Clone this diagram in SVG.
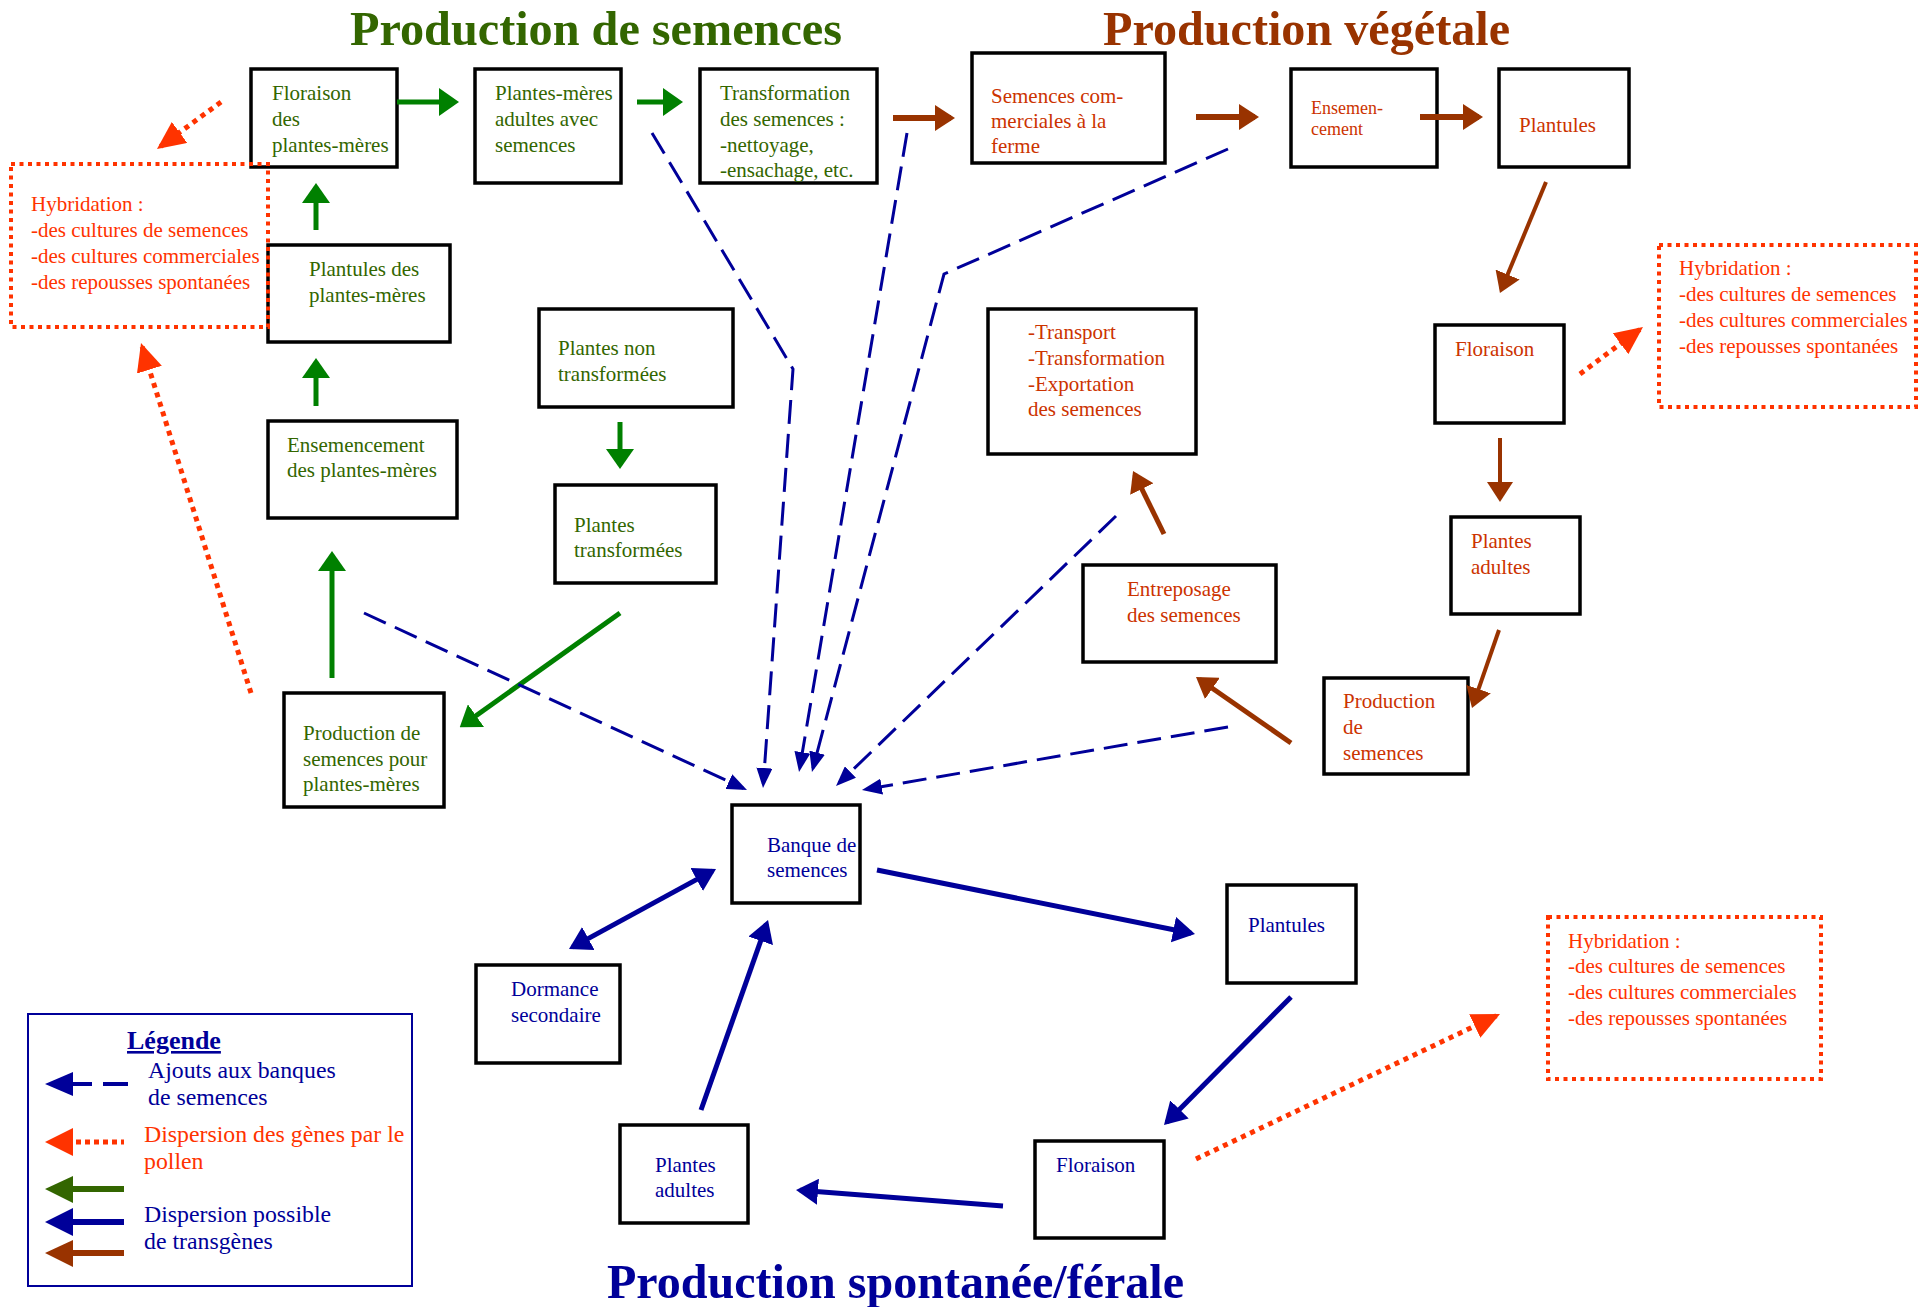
<svg xmlns="http://www.w3.org/2000/svg" width="1928" height="1307" viewBox="0 0 1928 1307">
<style>
.box{fill:none;stroke:#000;stroke-width:3.5}
.t{font-family:"Liberation Serif","Times New Roman",serif;font-size:21px}
.sm{font-size:18px}
.lg{font-size:23.8px}
.lt{font-size:26px;font-weight:bold;text-decoration:underline}
.title{font-family:"Liberation Serif","Times New Roman",serif;font-size:48px;font-weight:bold}
.g{fill:#336600}.r{fill:#CC3300}.b{fill:#000099}.h{fill:#FF3300}
.hyb{fill:none;stroke:#FF3300;stroke-width:4;stroke-dasharray:4 4.5}
.cg{fill:none;stroke:#008000;stroke-width:5;marker-end:url(#mg)}
.cb{fill:none;stroke:#993300;stroke-width:5;marker-end:url(#mb)}
.cn{fill:none;stroke:#000099;stroke-width:5;marker-end:url(#mn)}
.cd{fill:none;stroke:#000099;stroke-width:3;stroke-dasharray:24 10;marker-end:url(#md)}
.cr{fill:none;stroke:#FF3300;stroke-width:5;stroke-dasharray:5 5;marker-end:url(#mr)}
</style>
<defs>
<marker id="mg" viewBox="0 0 20 28" refX="16" refY="14" markerWidth="20" markerHeight="28" orient="auto" markerUnits="userSpaceOnUse"><path d="M0,0 L20,14 L0,28 z" fill="#008000"/></marker>
<marker id="mb" viewBox="0 0 20 26" refX="16" refY="13" markerWidth="20" markerHeight="26" orient="auto" markerUnits="userSpaceOnUse"><path d="M0,0 L20,13 L0,26 z" fill="#993300"/></marker>
<marker id="mn" viewBox="0 0 22 26" refX="18" refY="13" markerWidth="22" markerHeight="26" orient="auto-start-reverse" markerUnits="userSpaceOnUse"><path d="M0,0 L22,13 L0,26 z" fill="#000099"/></marker>
<marker id="md" viewBox="0 0 20 16" refX="16" refY="8" markerWidth="20" markerHeight="16" orient="auto" markerUnits="userSpaceOnUse"><path d="M0,0 L20,8 L0,16 z" fill="#000099"/></marker>
<marker id="mr" viewBox="0 0 28 26" refX="24" refY="13" markerWidth="28" markerHeight="26" orient="auto" markerUnits="userSpaceOnUse"><path d="M0,0 L28,13 L0,26 z" fill="#FF3300"/></marker>
</defs>
<rect width="1928" height="1307" fill="#fff"/>

<g id="titles">
<text class="title" x="350" y="45" fill="#336600" textLength="492" lengthAdjust="spacingAndGlyphs">Production de semences</text>
<text class="title" x="1103" y="45" fill="#993300" textLength="407" lengthAdjust="spacingAndGlyphs">Production végétale</text>
<text class="title" x="607" y="1298" fill="#000099" textLength="577" lengthAdjust="spacingAndGlyphs">Production spontanée/férale</text>
</g>

<g id="n-floraison-pm"><rect class="box" x="251" y="69" width="146" height="98"/>
<text class="t g" x="272" y="100">Floraison</text><text class="t g" x="272" y="126">des</text><text class="t g" x="272" y="152">plantes-mères</text></g>
<g id="n-pm-adultes"><rect class="box" x="475" y="69" width="146" height="114"/>
<text class="t g" x="495" y="100">Plantes-mères</text><text class="t g" x="495" y="126">adultes avec</text><text class="t g" x="495" y="152">semences</text></g>
<g id="n-transformation"><rect class="box" x="700" y="69" width="177" height="114"/>
<text class="t g" x="720" y="100">Transformation</text><text class="t g" x="720" y="126">des semences :</text><text class="t g" x="720" y="152">-nettoyage,</text><text class="t g" x="720" y="177">-ensachage, etc.</text></g>
<g id="n-plantules-pm"><rect class="box" x="268" y="245" width="182" height="97"/>
<text class="t g" x="309" y="276">Plantules des</text><text class="t g" x="309" y="302">plantes-mères</text></g>
<g id="n-plantes-non"><rect class="box" x="539" y="309" width="194" height="98"/>
<text class="t g" x="558" y="355">Plantes non</text><text class="t g" x="558" y="381">transformées</text></g>
<g id="n-ensemencement-pm"><rect class="box" x="268" y="421" width="189" height="97"/>
<text class="t g" x="287" y="452">Ensemencement</text><text class="t g" x="287" y="477">des plantes-mères</text></g>
<g id="n-plantes-transf"><rect class="box" x="555" y="485" width="161" height="98"/>
<text class="t g" x="574" y="532">Plantes</text><text class="t g" x="574" y="557">transformées</text></g>
<g id="n-production-pm"><rect class="box" x="284" y="693" width="160" height="114"/>
<text class="t g" x="303" y="740">Production de</text><text class="t g" x="303" y="766">semences pour</text><text class="t g" x="303" y="791">plantes-mères</text></g>

<g id="n-semences-com"><rect class="box" x="972" y="53" width="193" height="110"/>
<text class="t r" x="991" y="103">Semences com-</text><text class="t r" x="991" y="128">merciales à la</text><text class="t r" x="991" y="153">ferme</text></g>
<g id="n-ensemencement"><rect class="box" x="1291" y="69" width="146" height="98"/>
<text class="t r sm" x="1311" y="114">Ensemen-</text><text class="t r sm" x="1311" y="135">cement</text></g>
<g id="n-plantules-v"><rect class="box" x="1499" y="69" width="130" height="98"/>
<text class="t r" x="1519" y="132">Plantules</text></g>
<g id="n-transport"><rect class="box" x="988" y="309" width="208" height="145"/>
<text class="t r" x="1028" y="339">-Transport</text><text class="t r" x="1028" y="365">-Transformation</text><text class="t r" x="1028" y="391">-Exportation</text><text class="t r" x="1028" y="416">des semences</text></g>
<g id="n-floraison-v"><rect class="box" x="1435" y="325" width="129" height="98"/>
<text class="t r" x="1455" y="356">Floraison</text></g>
<g id="n-plantes-adultes-v"><rect class="box" x="1451" y="517" width="129" height="97"/>
<text class="t r" x="1471" y="548">Plantes</text><text class="t r" x="1471" y="574">adultes</text></g>
<g id="n-production-v"><rect class="box" x="1324" y="678" width="144" height="96"/>
<text class="t r" x="1343" y="708">Production</text><text class="t r" x="1343" y="734">de</text><text class="t r" x="1343" y="760">semences</text></g>
<g id="n-entreposage"><rect class="box" x="1083" y="565" width="193" height="97"/>
<text class="t r" x="1127" y="596">Entreposage</text><text class="t r" x="1127" y="622">des semences</text></g>

<g id="n-banque"><rect class="box" x="732" y="805" width="128" height="98"/>
<text class="t b" x="767" y="852">Banque de</text><text class="t b" x="767" y="877">semences</text></g>
<g id="n-dormance"><rect class="box" x="476" y="965" width="144" height="98"/>
<text class="t b" x="511" y="996">Dormance</text><text class="t b" x="511" y="1022">secondaire</text></g>
<g id="n-plantes-adultes-s"><rect class="box" x="620" y="1125" width="128" height="98"/>
<text class="t b" x="655" y="1172">Plantes</text><text class="t b" x="655" y="1197">adultes</text></g>
<g id="n-plantules-s"><rect class="box" x="1227" y="885" width="129" height="98"/>
<text class="t b" x="1248" y="932">Plantules</text></g>
<g id="n-floraison-s"><rect class="box" x="1035" y="1141" width="129" height="97"/>
<text class="t b" x="1056" y="1172">Floraison</text></g>

<g id="n-hybridation-1"><rect class="hyb" x="11" y="164" width="257" height="163"/>
<text class="t h" x="31" y="211">Hybridation :</text><text class="t h" x="31" y="237">-des cultures de semences</text><text class="t h" x="31" y="263">-des cultures commerciales</text><text class="t h" x="31" y="289">-des repousses spontanées</text></g>
<g id="n-hybridation-2"><rect class="hyb" x="1659" y="245" width="257" height="162"/>
<text class="t h" x="1679" y="275">Hybridation :</text><text class="t h" x="1679" y="301">-des cultures de semences</text><text class="t h" x="1679" y="327">-des cultures commerciales</text><text class="t h" x="1679" y="353">-des repousses spontanées</text></g>
<g id="n-hybridation-3"><rect class="hyb" x="1548" y="917" width="273" height="162"/>
<text class="t h" x="1568" y="948">Hybridation :</text><text class="t h" x="1568" y="973">-des cultures de semences</text><text class="t h" x="1568" y="999">-des cultures commerciales</text><text class="t h" x="1568" y="1025">-des repousses spontanées</text></g>

<g id="connectors">
<path class="cg" d="M397,102 H455"/>
<path class="cg" d="M637,102 H679"/>
<path class="cg" d="M316,230 V187"/>
<path class="cg" d="M316,406 V362"/>
<path class="cg" d="M620,422 V465"/>
<path class="cg" d="M332,678 V555"/>
<path class="cg" d="M620,613 L463,725"/>
<path class="cb" style="stroke-width:6" d="M893,118 H951"/>
<path class="cb" style="stroke-width:6" d="M1196,117 H1255"/>
<path class="cb" style="stroke-width:6" d="M1420,117 H1479"/>
<path class="cb" style="stroke-width:4" d="M1546,182 L1501.5,289.3"/>
<path class="cb" style="stroke-width:4" d="M1500,438 V498"/>
<path class="cb" style="stroke-width:4" d="M1499,630 L1473.3,704.2"/>
<path class="cb" d="M1291,743 L1199.3,679.3"/>
<path class="cb" d="M1164,534 L1134.8,474.6"/>
<path class="cn" style="marker-start:url(#mn)" d="M712.5,870.9 L572.5,947.1"/>
<path class="cn" d="M701,1110 L766.7,923.8"/>
<path class="cn" d="M877,870 L1191.1,933.2"/>
<path class="cn" d="M1291,997 L1166.8,1122.2"/>
<path class="cn" d="M1003,1206 L800,1190.3"/>
<path class="cd" d="M364,613 L743.4,788.3"/>
<path class="cd" d="M652,133 L793,369 L763.3,784"/>
<path class="cd" d="M907,133 L799.7,768.1"/>
<path class="cd" d="M1228,149 L944,274 L813,768.1"/>
<path class="cd" d="M1116,516 L838.9,783.2"/>
<path class="cd" d="M1228,727 L865.9,789.3"/>
<path class="cr" d="M221,102 L160.2,146.6"/>
<path class="cr" d="M251,693 L142.2,346.8"/>
<path class="cr" d="M1580,374 L1639.8,329.4"/>
<path class="cr" d="M1196,1159 L1496.4,1015.7"/>
</g>

<g id="legend">
<rect x="28" y="1014" width="384" height="272" fill="none" stroke="#000099" stroke-width="2"/>
<text class="t b lt" x="127" y="1049">Légende</text>
<polygon points="45,1084 73,1072 73,1096" fill="#000099"/>
<path d="M73,1084 H92 M103,1084 H128" stroke="#000099" stroke-width="4"/>
<text class="t b lg" x="148" y="1078">Ajouts aux banques</text>
<text class="t b lg" x="148" y="1105">de semences</text>
<polygon points="45,1142 73,1128 73,1156" fill="#FF3300"/>
<path d="M76,1142 H124" stroke="#FF3300" stroke-width="5" stroke-dasharray="5 4"/>
<text class="t h lg" x="144" y="1142">Dispersion des gènes par le</text>
<text class="t h lg" x="144" y="1169">pollen</text>
<polygon points="45,1189 73,1176 73,1203" fill="#336600"/>
<path d="M72,1189 H124" stroke="#336600" stroke-width="6"/>
<polygon points="45,1222 73,1208 73,1236" fill="#000099"/>
<path d="M72,1222 H124" stroke="#000099" stroke-width="6"/>
<text class="t b lg" x="144" y="1222">Dispersion possible</text>
<text class="t b lg" x="144" y="1249">de transgènes</text>
<polygon points="45,1253 73,1240 73,1267" fill="#993300"/>
<path d="M72,1253 H124" stroke="#993300" stroke-width="6"/>
</g>
</svg>
